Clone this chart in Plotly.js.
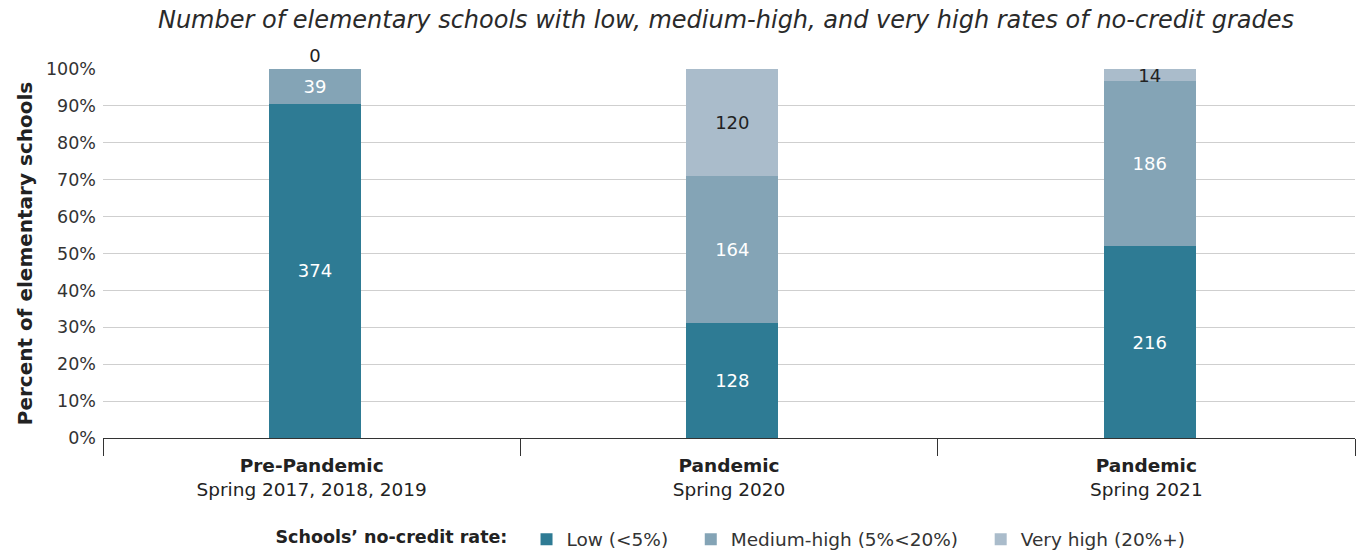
<!DOCTYPE html>
<html>
<head>
<meta charset="utf-8">
<script src="https://cdn.plot.ly/plotly-3.0.1.min.js"></script>
<style>html,body{margin:0;padding:0;background:#fff;}#chart{width:1358px;height:553px;}</style>
</head>
<body>
<div id="chart"></div>
<script>
const categories = ["<b>Pre-Pandemic</b><br>Spring 2017, 2018, 2019", "<b>Pandemic</b><br>Spring 2020", "<b>Pandemic</b><br>Spring 2021"];
const lowCounts = [374, 128, 216];
const mediumHighCounts = [39, 164, 186];
const veryHighCounts = [0, 120, 14];
const seriesNames = ["Low (&lt;5%)&nbsp;&nbsp;&nbsp;", "Medium-high (5%&lt;20%)&nbsp;&nbsp;&nbsp;", "Very high (20%+)"];
const colors = ["#2e7b94", "#84a4b6", "#aabccb"];

const font = "'DejaVu Sans', sans-serif";
function mk(vals, i, textColor, positions) {
  return {
    type: "bar", x: categories, y: vals, name: seriesNames[i],
    marker: {color: colors[i]}, width: 0.22, offset: -0.102,
    text: vals.map(String), textposition: positions, textangle: 0,
    insidetextanchor: "middle", constraintext: "none",
    textfont: {size: 18, color: textColor, family: font},
    outsidetextfont: {size: 18, color: "#222", family: font},
    cliponaxis: false, hoverinfo: "skip"
  };
}
const data = [
  mk(lowCounts, 0, "#ffffff", "inside"),
  mk(mediumHighCounts, 1, "#ffffff", "inside"),
  mk(veryHighCounts, 2, "#222222", ["outside", "inside", "inside"])
];
const layout = {
  width: 1358, height: 553,
  margin: {l: 103, r: 3, t: 69, b: 115},
  barmode: "stack", barnorm: "percent",
  paper_bgcolor: "#fff", plot_bgcolor: "#fff",
  font: {family: font, color: "#333", size: 16},
  title: {text: "<i>Number of elementary schools with low, medium-high, and very high rates of no-credit grades</i>",
    x: 0.5346, xanchor: "center", y: 0.965, yanchor: "middle",
    font: {size: 24, color: "#2a2a2a", family: font}},
  xaxis: {showline: true, linecolor: "#333", linewidth: 1, ticks: "outside", tickson: "boundaries",
    ticklen: 17, tickcolor: "#333", tickfont: {size: 18.5, color: "#222"}, showgrid: false,
    automargin: false, ticklabelstandoff: 11},
  yaxis: {range: [0, 100], dtick: 10, ticksuffix: "%", showgrid: true, gridcolor: "#cfcfcf",
    zeroline: false, showline: false, tickfont: {size: 17.5, color: "#333"}, automargin: false,
    ticklabelstandoff: 6,
    title: {text: "<b>Percent of elementary schools</b>", font: {size: 20, color: "#222"}, standoff: 7}},
  showlegend: true,
  legend: {orientation: "h", xref: "container", yref: "container", x: 0.539, xanchor: "center", y: 0.024, yanchor: "middle",
    font: {size: 18.5, color: "#333"}, traceorder: "normal", valign: "middle",
    title: {text: "<b>Schools’ no-credit rate:</b>&nbsp;&nbsp;", side: "left", font: {size: 17.5, color: "#222"}}}
};
Plotly.newPlot("chart", data, layout, {displayModeBar: false, staticPlot: true});
</script>
</body>
</html>
